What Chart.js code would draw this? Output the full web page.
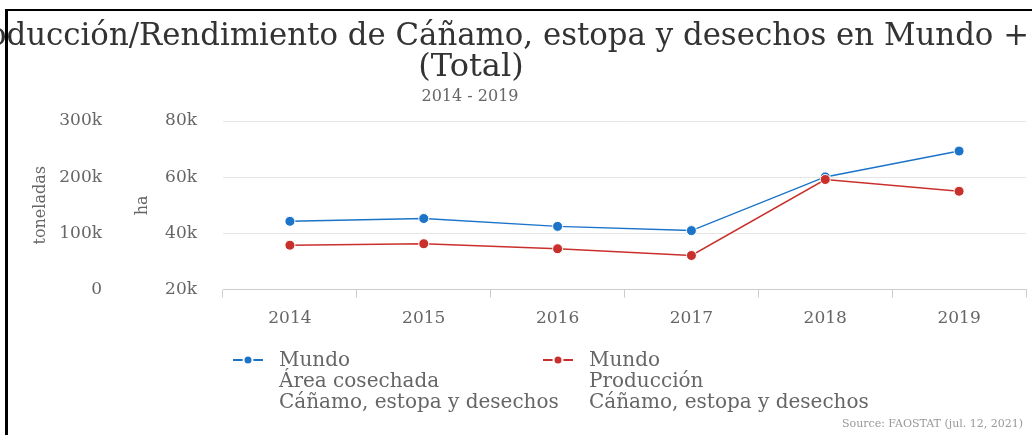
<!DOCTYPE html>
<html><head><meta charset="utf-8">
<script src="https://cdn.jsdelivr.net/npm/chart.js@4/dist/chart.umd.min.js"></script>
<style>
html,body{margin:0;padding:0;background:#fff;overflow:hidden}
#wrap{position:relative;width:1032px;height:435px}
#frame{position:absolute;left:5px;top:9px;right:0;bottom:0;border-left:3px solid #000;border-top:2px solid #000;pointer-events:none}
canvas{position:absolute;left:0;top:0}
</style></head><body>
<div id="wrap"><canvas id="c" width="1032" height="435"></canvas><div id="frame"></div></div>
<script>
const years = ['2014', '2015', '2016', '2017', '2018', '2019'];
const areaHa = [44300, 45300, 42500, 41000, 60100, 69300];
const produccionT = [79000, 81600, 72700, 60700, 195900, 175000];
const haTicks = [20000, 40000, 60000, 80000];
const tonTicks = [0, 100000, 200000, 300000];
const titleLine1 = 'Producción/Rendimiento de Cáñamo, estopa y desechos en Mundo +';
const titleLine2 = '(Total)';
const subtitle = '2014 - 2019';
const areaLabel = ['Mundo', 'Área cosechada', 'Cáñamo, estopa y desechos'];
const prodLabel = ['Mundo', 'Producción', 'Cáñamo, estopa y desechos'];
const sourceText = 'Source: FAOSTAT (jul. 12, 2021)';

const BLUE = '#1c74c8', RED = '#c9302c';
const FONT = "'DejaVu Serif', serif";
const fmtK = v => v === 0 ? '0' : (v / 1000) + 'k';

const decor = {
  id: 'decor',
  afterDraw(chart) {
    const ctx = chart.ctx, ca = chart.chartArea;
    ctx.save();
    // title
    ctx.fillStyle = '#333';
    ctx.font = '30.8px ' + FONT;
    ctx.textBaseline = 'middle';
    ctx.textAlign = 'right';
    ctx.fillText(titleLine1, 1029, 37);
    ctx.textAlign = 'center';
    ctx.font = '32px ' + FONT;
    ctx.fillText(titleLine2, 471, 68);
    ctx.fillStyle = '#666';
    ctx.font = '16px ' + FONT;
    ctx.fillText(subtitle, 470, 97);
    // legend
    const items = [{c: BLUE, t: areaLabel}, {c: RED, t: prodLabel}];
    const x0 = ca.left + 10, pitch = 310, y0 = 360;
    items.forEach((it, i) => {
      const x = x0 + i * pitch;
      ctx.strokeStyle = it.c; ctx.lineWidth = 2;
      ctx.beginPath(); ctx.moveTo(x, y0); ctx.lineTo(x + 30, y0); ctx.stroke();
      ctx.beginPath(); ctx.arc(x + 15, y0, 4.5, 0, Math.PI * 2);
      ctx.fillStyle = it.c; ctx.fill();
      ctx.strokeStyle = '#fff'; ctx.lineWidth = 2; ctx.stroke();
      ctx.fillStyle = '#666';
      ctx.font = '20px ' + FONT;
      ctx.textAlign = 'left';
      ctx.textBaseline = 'alphabetic';
      it.t.forEach((s, j) => ctx.fillText(s, x + 46, 366 + j * 21));
    });
    // source
    ctx.fillStyle = '#999';
    ctx.font = '11px ' + FONT;
    ctx.textAlign = 'right';
    ctx.textBaseline = 'middle';
    ctx.fillText(sourceText, 1023, 424);
    ctx.restore();
  }
};

new Chart(document.getElementById('c'), {
  type: 'line',
  data: {
    labels: years,
    datasets: [
      {label: areaLabel.join(' '), data: areaHa, yAxisID: 'yHa', borderColor: BLUE, backgroundColor: BLUE,
       pointBackgroundColor: BLUE, pointBorderColor: '#fff', pointBorderWidth: 1, pointRadius: 5, borderWidth: 1.5, order: 1, tension: 0},
      {label: prodLabel.join(' '), data: produccionT, yAxisID: 'yTon', borderColor: RED, backgroundColor: RED,
       pointBackgroundColor: RED, pointBorderColor: '#fff', pointBorderWidth: 1, pointRadius: 5, borderWidth: 1.5, order: 0, tension: 0}
    ]
  },
  options: {
    responsive: false,
    animation: false,
    layout: {padding: {left: 0, right: 3, top: 121, bottom: 95}},
    plugins: {legend: {display: false}, title: {display: false}, tooltip: {enabled: false}},
    scales: {
      x: {
        type: 'category', offset: true,
        grid: {offset: true, drawOnChartArea: false, drawTicks: true, tickLength: 8, color: '#ccc'},
        border: {color: '#ccc', width: 1},
        ticks: {font: {family: FONT, size: 17}, color: '#666', padding: 11}
      },
      yHa: {
        position: 'left', weight: 0, min: 20000, max: 80000,
        afterBuildTicks: s => { s.ticks = haTicks.map(v => ({value: v})); },
        afterFit: s => { s.width = 93; },
        grid: {color: '#e6e6e6', drawTicks: false},
        border: {display: false},
        ticks: {font: {family: FONT, size: 17}, color: '#666', padding: 26, callback: fmtK},
        title: {display: true, text: 'ha', font: {family: FONT, size: 16}, color: '#666', padding: {top: 3, bottom: 0}}
      },
      yTon: {
        position: 'left', weight: 1, min: 0, max: 300000,
        afterBuildTicks: s => { s.ticks = tonTicks.map(v => ({value: v})); },
        afterFit: s => { s.width = 130; },
        grid: {display: false, drawTicks: false},
        border: {display: false},
        ticks: {font: {family: FONT, size: 17}, color: '#666', padding: 28, callback: fmtK},
        title: {display: true, text: 'toneladas', font: {family: FONT, size: 16}, color: '#666', padding: {top: 31, bottom: 0}}
      }
    }
  },
  plugins: [decor]
});
</script>
</body></html>
